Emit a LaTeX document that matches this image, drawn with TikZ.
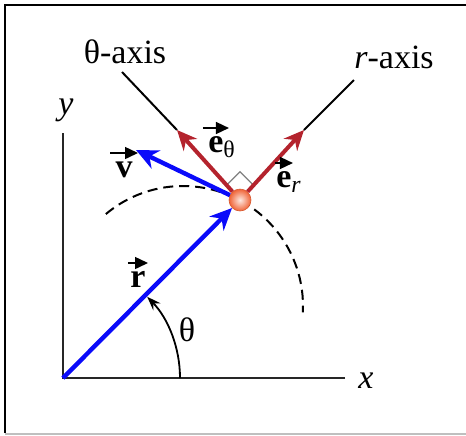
\documentclass[tikz,border=0pt]{standalone}
\usepackage{fontspec}
\setmainfont{Liberation Serif}
\usepackage{xcolor}
\usetikzlibrary{arrows.meta, calc}

\definecolor{vecred}{RGB}{180,35,45}
\definecolor{vecblue}{RGB}{10,10,250}
\definecolor{ballcol}{RGB}{240,100,55}

% small arrow set above a bold letter
\newcommand{\vecbf}[2][12pt]{\begin{tabular}[b]{@{}c@{}}\makebox[0pt]{\tikz[baseline=0pt]\draw[-{Triangle[length=6.5pt,width=6pt]}, line width=0.75pt] (0,0) -- (#1,0);}\\[-7pt]\textbf{#2}\end{tabular}}

\begin{document}
\begin{tikzpicture}[x=0.5pt, y=0.5pt, font=\fontsize{17}{19}\selectfont,
    axis/.style={black!85, line width=1.4pt},
    polaraxis/.style={black, line width=1pt},
    bluevec/.style={vecblue, line width=2.2pt, -{Stealth[length=11pt,width=10pt]}},
    redvec/.style={vecred, line width=2pt, -{Stealth[length=10pt,width=9pt]}},
    traj/.style={line width=1pt, dash pattern=on 5pt off 3pt},
    particle/.style={circle, minimum size=11pt, inner sep=0pt, draw=ballcol!90!black, line width=0.3pt,
        inner color=white!85!ballcol, outer color=ballcol},
    every node/.style={inner sep=1pt}]
    % Khung
    \useasboundingbox (0,0) rectangle (466,-435);
    \draw[line width=1.2pt] (5,-433) -- (5,-5) -- (466,-5);
    \draw[black!25, line width=1pt] (5,-433.5) -- (466,-433.5);

    % Hệ trục tọa độ
    \coordinate (O) at (63,-378);
    \coordinate (xend) at (345,-378);
    \coordinate (yend) at (63,-133);
    \draw[axis] (xend) -- (O) -- (yend);
    \node (xlab) at (366,-381) {\textit{x}};
    \node (ylab) at (66,-110) {\textit{y}};

    % Quỹ đạo
    \coordinate (ctr) at (183,-306);
    \draw[traj] ($(ctr)+(130:120)$) arc[start angle=130, end angle=-3, radius=120];

    % Chất điểm
    \node[particle] (p) at (240,-200) {};
    \draw[gray, line width=0.6pt] ($(p)+(135:20)$) -- ($(p)+(90:28.3)$) -- ($(p)+(45:20)$);

    % Các trục r, theta và vectơ đơn vị
    \coordinate (er) at (304,-130);
    \coordinate (eth) at (177,-130);
    \coordinate (raxis) at (354,-80);
    \coordinate (thaxis) at (122,-72);
    \draw[polaraxis] (er) -- (raxis);
    \draw[polaraxis] (eth) -- (thaxis);
    \draw[redvec] (p) -- (er);
    \draw[redvec] (p) -- (eth);
    \node (thlab) at (125,-52) {θ-axis};
    \node (rlab) at (394,-57) {\textit{r}-axis};

    % Vận tốc và vectơ vị trí
    \coordinate (vtip) at (136,-150);
    \draw[bluevec] (p) -- (vtip);
    \draw[bluevec] (O) -- (p);

    % Góc theta
    \draw[line width=0.9pt, -{Stealth[length=7pt,width=5pt,inset=2.5pt]}]
        ($(O)+(117,0)$) arc[start angle=0, end angle=44, radius=117];
    \node (thang) at (187,-330) {θ};

    % Nhãn vectơ
    \node[anchor=base] (vlab) at (124,-177) {\vecbf[14pt]{v}};
    \node[anchor=base] (rvlab) at (138,-287) {\vecbf[10pt]{r}};
    \node[anchor=base west] (ethlab) at (206,-152) {\vecbf[13pt]{e}\textsubscript{θ}};
    \node[anchor=base west] (erlab) at (274,-187) {\vecbf[9pt]{e}\textsubscript{\textit{r}}};
\end{tikzpicture}
\end{document}
